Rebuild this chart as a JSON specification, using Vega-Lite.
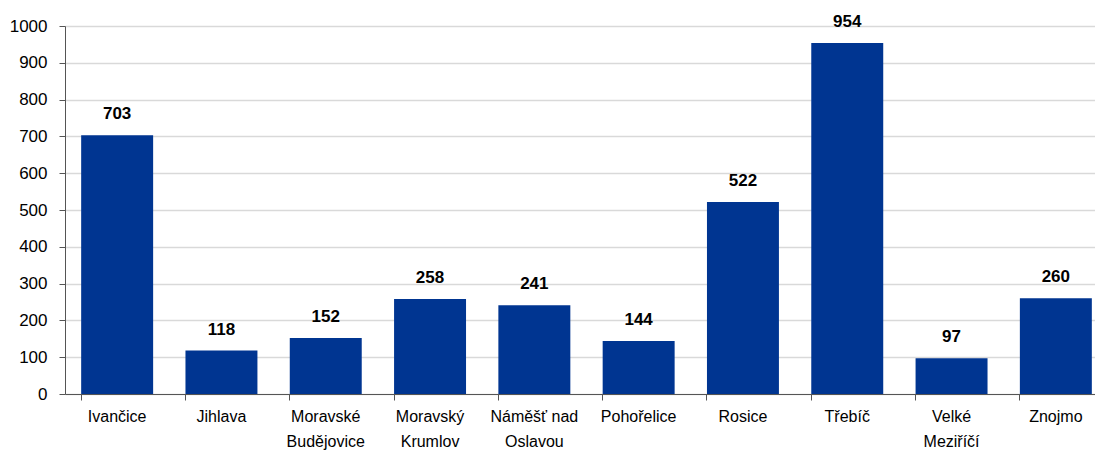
{
  "$schema": "https://vega.github.io/schema/vega-lite/v6.json",
  "autosize": "none",
  "padding": {"left": 65, "top": 26, "right": 0, "bottom": 56},
  "width": 1043,
  "height": 368,
  "background": "white",
  "config": {"view": {"stroke": null}, "font": "Liberation Sans"},
  "data": {"values": [
    {"obec": "Ivančice", "pocet": 703},
    {"obec": "Jihlava", "pocet": 118},
    {"obec": "Moravské Budějovice", "pocet": 152},
    {"obec": "Moravský Krumlov", "pocet": 258},
    {"obec": "Náměšť nad Oslavou", "pocet": 241},
    {"obec": "Pohořelice", "pocet": 144},
    {"obec": "Rosice", "pocet": 522},
    {"obec": "Třebíč", "pocet": 954},
    {"obec": "Velké Meziříčí", "pocet": 97},
    {"obec": "Znojmo", "pocet": 260}
  ]},
  "encoding": {
    "x": {"field": "obec", "type": "nominal", "sort": null,
      "scale": {"paddingInner": 0.31, "paddingOuter": 0.155},
      "axis": {"title": null, "labelAngle": 0, "bandPosition": 0, "ticks": true, "tickSize": 6, "tickColor": "#555", "domainColor": "#555",
        "labelFontSize": 16, "labelColor": "#000", "labelPadding": 8, "labelLineHeight": 25, "labelBaseline": "top",
        "labelExpr": "datum.value == 'Moravské Budějovice' ? ['Moravské','Budějovice'] : datum.value == 'Moravský Krumlov' ? ['Moravský','Krumlov'] : datum.value == 'Náměšť nad Oslavou' ? ['Náměšť nad','Oslavou'] : datum.value == 'Velké Meziříčí' ? ['Velké','Meziříčí'] : datum.label"}},
    "y": {"field": "pocet", "type": "quantitative",
      "scale": {"domain": [0, 1000], "nice": false},
      "axis": {"title": null, "values": [0,100,200,300,400,500,600,700,800,900,1000], "format": "d", "grid": true, "gridColor": "#d9d9d9", "gridWidth": 1.5,
        "domainColor": "#555", "tickColor": "#555", "tickSize": 6, "labelFontSize": 17, "labelColor": "#000", "labelPadding": 12}}
  },
  "layer": [
    {"mark": {"type": "bar", "color": "#003591"}},
    {"mark": {"type": "text", "fontWeight": "bold", "fontSize": 17, "baseline": "alphabetic", "dy": -16, "color": "#000"},
     "encoding": {"text": {"field": "pocet", "type": "quantitative", "format": "d"}}}
  ]
}
